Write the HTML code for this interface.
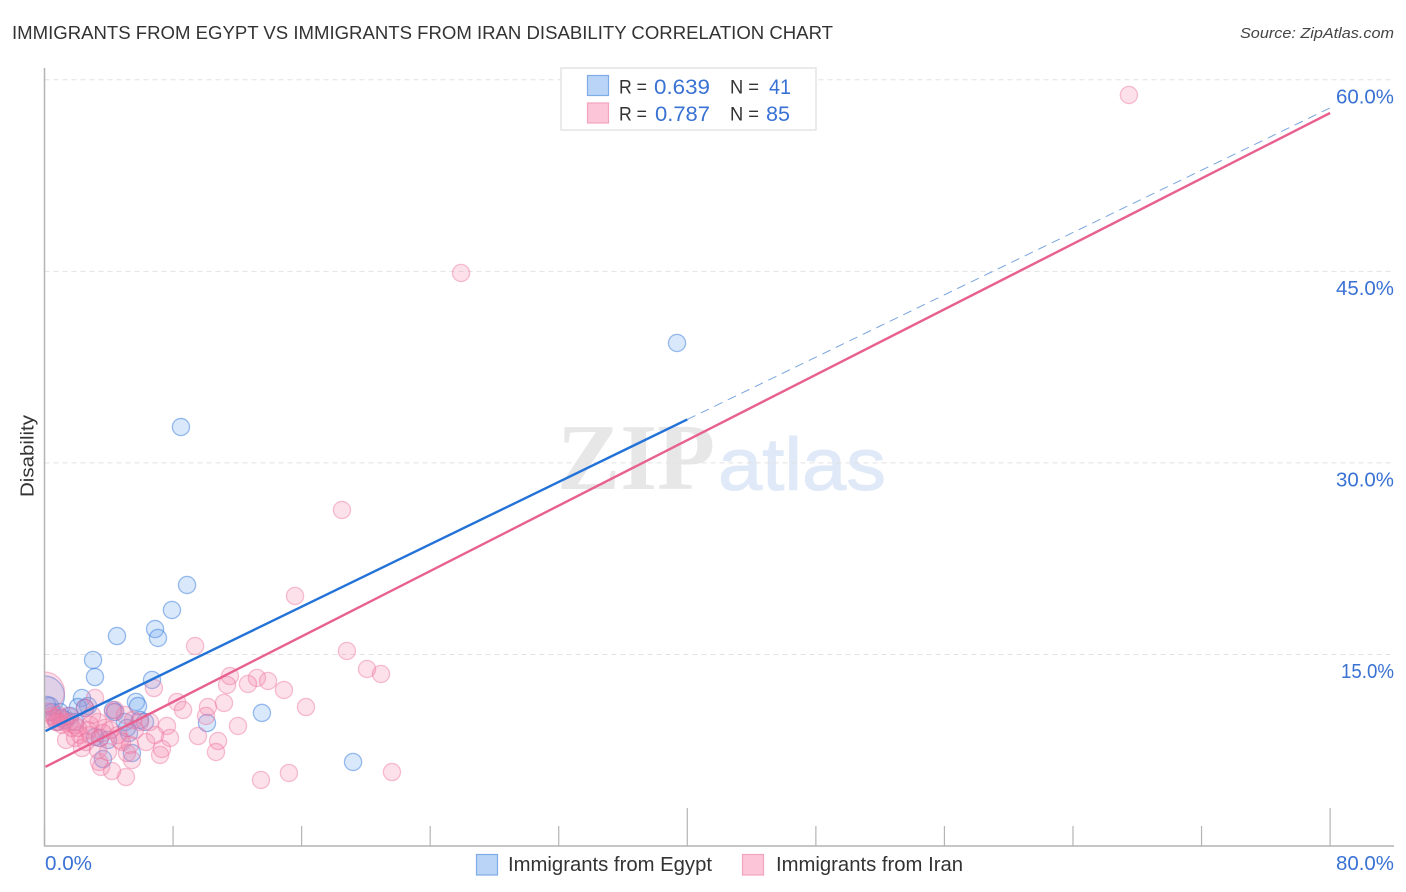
<!DOCTYPE html>
<html lang="en">
<head>
<meta charset="utf-8">
<title>Immigrants from Egypt vs Immigrants from Iran Disability Correlation Chart</title>
<style>
html,body{margin:0;padding:0;background:#fff;width:1406px;height:892px;overflow:hidden}
svg{display:block}
text{font-family:"Liberation Sans",sans-serif}
</style>
</head>
<body>
<svg id="chart" width="1406" height="892" viewBox="0 0 1406 892" xmlns="http://www.w3.org/2000/svg">
  <rect x="0" y="0" width="1406" height="892" fill="#fff"/>
  <text x="12" y="39" font-size="18.5" fill="#333" textLength="821" lengthAdjust="spacingAndGlyphs">IMMIGRANTS FROM EGYPT VS IMMIGRANTS FROM IRAN DISABILITY CORRELATION CHART</text>
  <text x="1394" y="38" font-size="15" font-style="italic" fill="#444" text-anchor="end" textLength="154" lengthAdjust="spacingAndGlyphs">Source: ZipAtlas.com</text>

  <g>
    <text x="557" y="489" font-size="94" font-weight="700" fill="#e7e7e7" textLength="158" lengthAdjust="spacingAndGlyphs" style='font-family:"Liberation Serif",serif'>ZIP</text>
    <text x="718" y="490" font-size="74" fill="#dfe9f8" stroke="#dfe9f8" stroke-width="1" textLength="168" lengthAdjust="spacingAndGlyphs">atlas</text>
  </g>

  <g id="grid"></g>
  <g id="ylabels"></g>
  <g id="xlabels"></g>
  <g id="points"></g>
  <rect x="0" y="60" width="44.5" height="786" fill="#fff"/>
  <g id="axes"></g>
  <g id="trends"></g>

  <text transform="translate(33.5,456) rotate(-90)" font-size="18" fill="#333" text-anchor="middle" textLength="82" lengthAdjust="spacingAndGlyphs">Disability</text>

  <g>
    <rect x="561" y="68" width="255" height="62" fill="#fff" stroke="#e4e4e4" stroke-width="1.5"/>
    <rect x="587.5" y="75.5" width="21" height="20" fill="#b9d4f7" stroke="#7fabe6" stroke-width="1.2"/>
    <rect x="587.5" y="103" width="21" height="20" fill="#fcc6d8" stroke="#f2a3bd" stroke-width="1.2"/>
    <text x="619" y="93.5" font-size="19" fill="#333" textLength="28" lengthAdjust="spacingAndGlyphs">R =</text>
    <text x="654" y="94" font-size="21" fill="#3a72d4" textLength="56" lengthAdjust="spacingAndGlyphs">0.639</text>
    <text x="730" y="93.5" font-size="19" fill="#333" textLength="29" lengthAdjust="spacingAndGlyphs">N =</text>
    <text x="769" y="94" font-size="21" fill="#3a72d4" textLength="22" lengthAdjust="spacingAndGlyphs">41</text>
    <text x="619" y="120.5" font-size="19" fill="#333" textLength="28" lengthAdjust="spacingAndGlyphs">R =</text>
    <text x="655" y="121" font-size="21" fill="#3a72d4" textLength="55" lengthAdjust="spacingAndGlyphs">0.787</text>
    <text x="730" y="120.5" font-size="19" fill="#333" textLength="29" lengthAdjust="spacingAndGlyphs">N =</text>
    <text x="766" y="121" font-size="21" fill="#3a72d4" textLength="24" lengthAdjust="spacingAndGlyphs">85</text>
  </g>

  <g>
    <rect x="476.5" y="854.5" width="21" height="20.5" fill="#b9d4f7" stroke="#7fabe6" stroke-width="1.2"/>
    <text x="508" y="871" font-size="20" fill="#333" textLength="204" lengthAdjust="spacingAndGlyphs">Immigrants from Egypt</text>
    <rect x="742.5" y="854.5" width="21" height="20.5" fill="#fcc6d8" stroke="#f2a3bd" stroke-width="1.2"/>
    <text x="776" y="871" font-size="20" fill="#333" textLength="187" lengthAdjust="spacingAndGlyphs">Immigrants from Iran</text>
  </g>
</svg>
<script>
const xTickValues = [0, 8, 16, 24, 32, 40, 48, 56, 64, 72, 80];
const xMajorTicks = [40, 80];
const xLabelValues = ['0.0%', '80.0%'];
const yTickValues = [15, 30, 45, 60];
const yTickLabels = ['15.0%', '30.0%', '45.0%', '60.0%'];

const egyptX = [39.36,8.49,8.87,7.93,6.88,7.06,4.51,3.02,3.14,6.69,2.33,5.69,5.82,13.53,10.11,19.2,2.71,2.08,4.26,6.25,5.94,5.26,3.45,3.95,3.64,5.44,0,0.34,0.47,0.96,1.59,1.28,2.52,1.09,0.78,1.9,5.01,5.13,4.39,0.16,3.14];
const egyptY = [39.39,32.81,20.44,18.48,16.99,16.29,16.44,14.57,13.23,13.0,11.59,11.28,10.96,10.42,9.63,6.58,10.96,10.88,10.65,9.71,9.87,8.85,8.46,8.3,6.81,7.28,11.75,10.96,10.49,10.49,10.18,9.87,10.81,10.02,9.71,9.71,9.71,9.24,10.49,11.04,8.54];
const egyptLarge = [26];

const iranX = [67.48,25.92,18.51,15.59,9.37,18.82,20.07,20.94,11.54,13.22,13.91,12.66,11.36,14.9,6.81,16.27,8.25,8.62,11.17,10.17,10.05,12.04,7.62,6.88,7.81,9.55,10.8,10.67,7.19,7.31,6.32,15.21,13.47,21.62,5.07,4.2,3.52,3.39,5.44,5.13,3.14,2.52,4.39,5.01,5.51,3.33,2.83,3.76,2.21,1.34,1.9,2.33,2.83,3.45,4.7,4.57,4.08,1.71,2.71,0.96,0.65,0.34,0.96,1.28,0.84,1.59,1.9,0.47,1.09,0.72,1.46,0.22,4.26,5.94,5.63,5.32,4.82,3.33,3.95,0,2.08,2.96,3.64,2.58,6.56];
const iranY = [58.81,44.87,26.31,19.58,15.66,15.27,13.86,13.47,13.31,13.16,12.92,12.69,12.61,12.22,12.37,10.88,11.28,10.65,11.2,10.88,10.18,9.4,9.4,8.69,8.46,8.61,8.22,7.36,7.13,7.6,8.14,5.72,5.17,5.79,5.4,5.87,6.19,6.58,6.73,7.28,11.59,10.81,10.65,10.26,9.87,9.71,9.48,9.24,8.69,8.3,8.46,7.67,8.69,8.46,8.3,8.69,9.08,9.24,9.08,9.71,10.02,9.87,10.02,9.71,10.26,9.71,9.48,10.18,9.48,9.71,10.18,10.49,10.49,9.71,9.08,7.91,8.14,7.52,7.36,12.06,9.24,10.26,8.85,8.14,9.71];
const iranLarge = [79];

const egyptTrendX = [0, 40];
const egyptTrendY = [9.0, 33.4];
const egyptDashX = [40, 80];
const egyptDashY = [33.4, 57.8];
const iranTrendX = [0, 80];
const iranTrendY = [6.2, 57.4];

const NS = 'http://www.w3.org/2000/svg';
const xScale = v => 44.5 + v * 16.07;
const yScale = v => 846 - v * 12.77;
const AXIS_RIGHT = 1394;

function mk(parent, tag, attrs) {
  const el = document.createElementNS(NS, tag);
  for (const k in attrs) el.setAttribute(k, attrs[k]);
  parent.appendChild(el);
  return el;
}

const grid = document.getElementById('grid');
yTickValues.forEach(function (v) {
  const g = mk(grid, 'line', {x1: 44.5, x2: AXIS_RIGHT, y1: yScale(v), y2: yScale(v), stroke: '#e2e2e2', 'stroke-width': 1, 'stroke-dasharray': '5 4'});
  
  
});

const axes = document.getElementById('axes');
const yAxis = mk(axes, 'line', {x1: 44.5, x2: 44.5, y1: 68, y2: 846, stroke: '#b4b4b4', 'stroke-width': 1.5});


const xAxis = mk(axes, 'line', {x1: 44, x2: AXIS_RIGHT, y1: 846, y2: 846, stroke: '#b4b4b4', 'stroke-width': 1.5});


xTickValues.forEach(function (v) {
  const top = xMajorTicks.indexOf(v) >= 0 ? 808 : 826;
  const t = mk(axes, 'line', {x1: xScale(v), x2: xScale(v), y1: top, y2: 846, stroke: '#b4b4b4', 'stroke-width': 1.2});
  
  
});

const ylabels = document.getElementById('ylabels');
yTickValues.forEach(function (v, i) {
  const t = mk(ylabels, 'text', {x: AXIS_RIGHT, y: yScale(v) + 23.5, 'font-size': 20, fill: '#3a72d4', 'text-anchor': 'end', textLength: v === 15 ? 53 : 58, lengthAdjust: 'spacingAndGlyphs'});
  t.textContent = yTickLabels[i];
  
  
});

const xlabels = document.getElementById('xlabels');
const xl0 = mk(xlabels, 'text', {x: 45, y: 870, 'font-size': 20, fill: '#3a72d4', textLength: 47, lengthAdjust: 'spacingAndGlyphs'});
xl0.textContent = xLabelValues[0];


const xl1 = mk(xlabels, 'text', {x: AXIS_RIGHT, y: 870, 'font-size': 20, fill: '#3a72d4', 'text-anchor': 'end', textLength: 58, lengthAdjust: 'spacingAndGlyphs'});
xl1.textContent = xLabelValues[1];



const points = document.getElementById('points');
function drawEgypt() {
  egyptX.forEach(function (x, i) {
    const r = egyptLarge.indexOf(i) >= 0 ? 20 : 8.6;
    const c = mk(points, 'circle', {cx: xScale(x), cy: yScale(egyptY[i]), r: r, fill: 'rgba(110,165,240,0.26)', stroke: 'rgba(50,120,220,0.48)', 'stroke-width': 1.3});
    
    
  });
}
function drawIran() {
  iranX.forEach(function (x, i) {
    const r = iranLarge.indexOf(i) >= 0 ? 20 : 8.6;
    const c = mk(points, 'circle', {cx: xScale(x), cy: yScale(iranY[i]), r: r, fill: 'rgba(245,130,170,0.25)', stroke: 'rgba(235,110,155,0.42)', 'stroke-width': 1.3});
    
    
  });
}
drawEgypt();
drawIran();

const trends = document.getElementById('trends');
const dash = mk(trends, 'line', {x1: xScale(egyptDashX[0]), y1: yScale(egyptDashY[0]), x2: xScale(egyptDashX[1]), y2: yScale(egyptDashY[1]), stroke: '#7aa5dd', 'stroke-width': 1, 'stroke-dasharray': '9 6'});


const lineIran = mk(trends, 'line', {x1: xScale(iranTrendX[0]) + 1, y1: yScale(iranTrendY[0]), x2: xScale(iranTrendX[1]), y2: yScale(iranTrendY[1]), stroke: '#e8608f', 'stroke-width': 2.4});


const lineEgypt = mk(trends, 'line', {x1: xScale(egyptTrendX[0]) + 1, y1: yScale(egyptTrendY[0]), x2: xScale(egyptTrendX[1]), y2: yScale(egyptTrendY[1]), stroke: '#2272d8', 'stroke-width': 2.4});


</script>
</body>
</html>
